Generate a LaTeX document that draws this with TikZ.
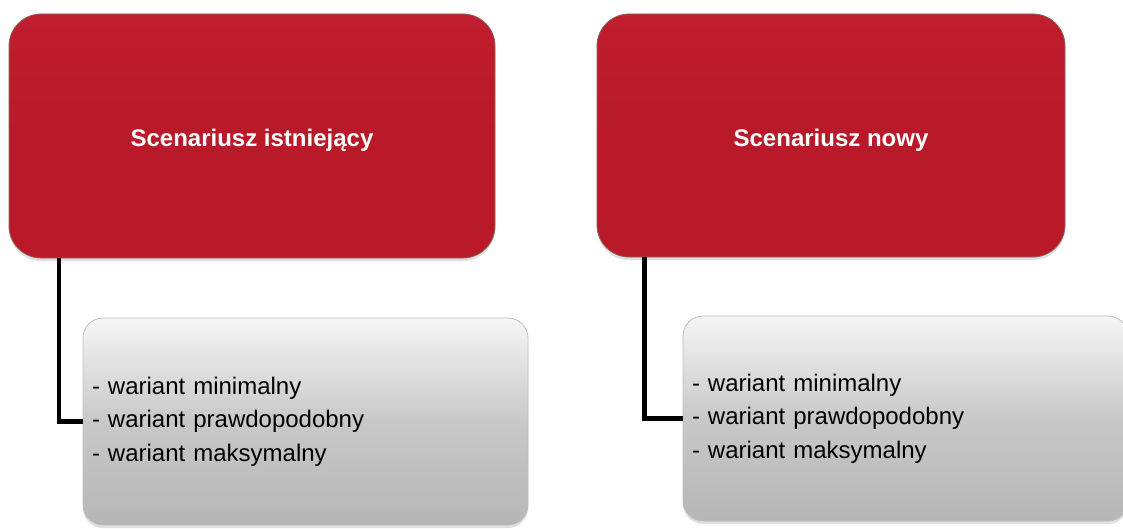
\documentclass[tikz,border=0pt]{standalone}
\usepackage{fontspec}
\setmainfont{Liberation Sans}
\usetikzlibrary{shadows}
\definecolor{redfill}{RGB}{185,25,40}
\definecolor{redtop}{RGB}{192,30,46}
\definecolor{redborder}{RGB}{140,100,90}
\definecolor{graytop}{RGB}{245,245,245}
\definecolor{graymid}{RGB}{200,200,200}
\definecolor{graybot}{RGB}{182,182,182}
\definecolor{grayborder}{RGB}{190,190,190}
\tikzset{
  redbox/.style={draw=redborder, line width=0.8pt, rounded corners=32pt,
    top color=redtop, bottom color=redfill, middle color=redfill,
    inner sep=0pt, text=white, font=\fontsize{24}{29}\selectfont\bfseries,
    text height=24pt, text depth=2.8pt,
    drop shadow={shadow xshift=0pt, shadow yshift=-3pt, opacity=0.25}},
  graybox/.style={draw=grayborder, line width=0.8pt, rounded corners=20pt,
    top color=graytop, bottom color=graybot, middle color=graymid,
    inner xsep=9pt, inner ysep=0pt, align=left,
    font=\fontsize{24}{33.5}\selectfont,
    drop shadow={shadow xshift=0pt, shadow yshift=-3pt, opacity=0.25}},
  conn/.style={line width=4.5pt, black}
}
\begin{document}
\begin{tikzpicture}[x=1pt,y=-1pt]
\useasboundingbox (0,0) rectangle (1123,529);
\begin{scope}
\clip (0,0) rectangle (1123,529);
\node[redbox, minimum width=486pt, minimum height=244pt] (red1) at (252,136) {Scenariusz istniejący};
\node[redbox, minimum width=468pt, minimum height=243pt] (red2) at (831,135.5) {Scenariusz nowy};
\node[graybox, minimum width=445pt, minimum height=207pt, text width=427pt] (gray1) at (305.5,421.5)
  {- wariant minimalny\\- wariant prawdopodobny\\- wariant maksymalny};
\node[graybox, minimum width=445pt, minimum height=205pt, text width=427pt] (gray2) at (905.5,418.5)
  {- wariant minimalny\\- wariant prawdopodobny\\- wariant maksymalny};
\draw[conn] ([xshift=50.5pt]red1.south west) |- (gray1.west);
\draw[conn] ([xshift=48pt]red2.south west) |- (gray2.west);
\end{scope}
\end{tikzpicture}
\end{document}
